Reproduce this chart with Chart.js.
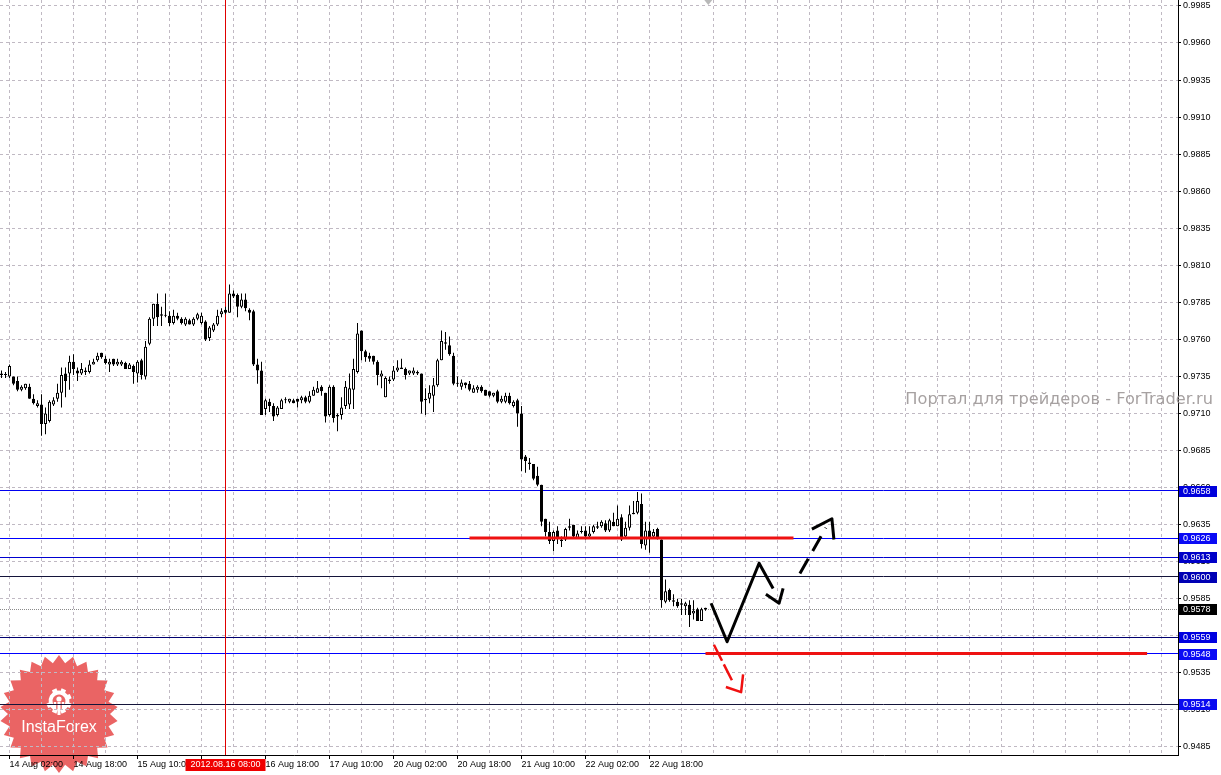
<!DOCTYPE html>
<html>
<head>
<meta charset="utf-8">
<script src="https://cdn.jsdelivr.net/npm/chart.js@4.4.1/dist/chart.umd.min.js"></script>
<style>
  html, body { margin: 0; padding: 0; background: #fff; overflow: hidden; }
  canvas { display: block; }
</style>
</head>
<body>
<canvas id="chart" width="1221" height="775"></canvas>
<script>
// H1 candles, bar 0 = 14 Aug 00:00
const opens = [
  0.9737, 0.9736, 0.9735, 0.9735, 0.9732, 0.9726, 0.9727, 0.9728, 0.9720, 0.9715,
  0.9716, 0.9703, 0.9705, 0.9716, 0.9720, 0.9724, 0.9737, 0.9737, 0.9745, 0.9739,
  0.9737, 0.9738, 0.9738, 0.9743, 0.9746, 0.9751, 0.9747, 0.9743, 0.9747, 0.9743,
  0.9743, 0.9744, 0.9740, 0.9742, 0.9737, 0.9746, 0.9735, 0.9757, 0.9774, 0.9784,
  0.9777, 0.9776, 0.9776, 0.9771, 0.9776, 0.9774, 0.9770, 0.9773, 0.9770, 0.9774,
  0.9771, 0.9772, 0.9761, 0.9766, 0.9770, 0.9777, 0.9780, 0.9778, 0.9791, 0.9790,
  0.9782, 0.9787, 0.9780, 0.9779, 0.9743, 0.9739, 0.9713, 0.9718, 0.9715, 0.9709,
  0.9713, 0.9719, 0.9718, 0.9719, 0.9720, 0.9719, 0.9721, 0.9718, 0.9722, 0.9724,
  0.9728, 0.9724, 0.9709, 0.9728, 0.9709, 0.9709, 0.9715, 0.9716, 0.9726, 0.9738,
  0.9766, 0.9752, 0.9749, 0.9749, 0.9745, 0.9735, 0.9721, 0.9733, 0.9733, 0.9739,
  0.9741, 0.9740, 0.9737, 0.9737, 0.9737, 0.9737, 0.9719, 0.9720, 0.9722, 0.9729,
  0.9746, 0.9758, 0.9756, 0.9749, 0.9730, 0.9728, 0.9731, 0.9730, 0.9724, 0.9726,
  0.9728, 0.9726, 0.9725, 0.9722, 0.9725, 0.9718, 0.9718, 0.9722, 0.9715, 0.9719,
  0.9710, 0.9681, 0.9677, 0.9676, 0.9668, 0.9662, 0.9639, 0.9630, 0.9624, 0.9631,
  0.9625, 0.9625, 0.9634, 0.9635, 0.9626, 0.9630, 0.9631, 0.9627, 0.9630, 0.9634,
  0.9634, 0.9636, 0.9631, 0.9637, 0.9634, 0.9640, 0.9627, 0.9633, 0.9643, 0.9643,
  0.9649, 0.9621, 0.9631, 0.9627, 0.9632, 0.9625, 0.9583, 0.9591, 0.9584, 0.9583,
  0.9581, 0.9580, 0.9581, 0.9575, 0.9578, 0.9570, 0.9579
];
const highs = [
  0.9739, 0.9738, 0.9743, 0.9735, 0.9735, 0.9729, 0.9730, 0.9730, 0.9723, 0.9719,
  0.9723, 0.9714, 0.9719, 0.9721, 0.9730, 0.9741, 0.9741, 0.9749, 0.9750, 0.9741,
  0.9744, 0.9741, 0.9746, 0.9747, 0.9751, 0.9751, 0.9749, 0.9747, 0.9747, 0.9747,
  0.9746, 0.9745, 0.9744, 0.9743, 0.9746, 0.9747, 0.9759, 0.9775, 0.9784, 0.9791,
  0.9782, 0.9791, 0.9779, 0.9780, 0.9778, 0.9775, 0.9775, 0.9774, 0.9775, 0.9778,
  0.9778, 0.9773, 0.9769, 0.9771, 0.9780, 0.9781, 0.9782, 0.9797, 0.9793, 0.9791,
  0.9791, 0.9791, 0.9781, 0.9780, 0.9747, 0.9745, 0.9720, 0.9720, 0.9717, 0.9715,
  0.9720, 0.9721, 0.9720, 0.9720, 0.9720, 0.9722, 0.9722, 0.9725, 0.9728, 0.9732,
  0.9729, 0.9724, 0.9729, 0.9729, 0.9710, 0.9721, 0.9732, 0.9737, 0.9747, 0.9771,
  0.9766, 0.9753, 0.9751, 0.9749, 0.9746, 0.9739, 0.9735, 0.9735, 0.9742, 0.9746,
  0.9747, 0.9741, 0.9739, 0.9741, 0.9739, 0.9737, 0.9727, 0.9729, 0.9734, 0.9747,
  0.9766, 0.9765, 0.9762, 0.9751, 0.9735, 0.9733, 0.9731, 0.9732, 0.9729, 0.9729,
  0.9729, 0.9726, 0.9725, 0.9724, 0.9726, 0.9722, 0.9724, 0.9724, 0.9719, 0.9720,
  0.9715, 0.9682, 0.9680, 0.9676, 0.9674, 0.9662, 0.9639, 0.9637, 0.9631, 0.9634,
  0.9627, 0.9633, 0.9639, 0.9635, 0.9631, 0.9634, 0.9634, 0.9634, 0.9635, 0.9637,
  0.9638, 0.9638, 0.9639, 0.9643, 0.9648, 0.9642, 0.9637, 0.9648, 0.9651, 0.9657,
  0.9656, 0.9637, 0.9637, 0.9632, 0.9633, 0.9625, 0.9598, 0.9592, 0.9588, 0.9585,
  0.9585, 0.9583, 0.9584, 0.9584, 0.9579, 0.9579, 0.9579
];
const lows = [
  0.9734, 0.9734, 0.9734, 0.9729, 0.9725, 0.9725, 0.9726, 0.9720, 0.9716, 0.9714,
  0.9695, 0.9696, 0.9704, 0.9715, 0.9718, 0.9714, 0.9721, 0.9726, 0.9736, 0.9732,
  0.9736, 0.9736, 0.9737, 0.9743, 0.9745, 0.9747, 0.9743, 0.9738, 0.9742, 0.9742,
  0.9742, 0.9740, 0.9740, 0.9730, 0.9731, 0.9733, 0.9733, 0.9756, 0.9769, 0.9769,
  0.9769, 0.9775, 0.9769, 0.9770, 0.9773, 0.9770, 0.9769, 0.9770, 0.9769, 0.9773,
  0.9770, 0.9759, 0.9759, 0.9765, 0.9769, 0.9775, 0.9777, 0.9778, 0.9788, 0.9775,
  0.9781, 0.9779, 0.9773, 0.9742, 0.9730, 0.9709, 0.9709, 0.9711, 0.9705, 0.9708,
  0.9713, 0.9717, 0.9717, 0.9717, 0.9714, 0.9717, 0.9717, 0.9717, 0.9722, 0.9724,
  0.9722, 0.9704, 0.9708, 0.9704, 0.9698, 0.9706, 0.9713, 0.9713, 0.9713, 0.9737,
  0.9746, 0.9745, 0.9745, 0.9743, 0.9729, 0.9727, 0.9721, 0.9730, 0.9732, 0.9738,
  0.9740, 0.9733, 0.9736, 0.9736, 0.9736, 0.9710, 0.9709, 0.9717, 0.9711, 0.9728,
  0.9746, 0.9753, 0.9749, 0.9729, 0.9728, 0.9726, 0.9727, 0.9725, 0.9724, 0.9724,
  0.9724, 0.9722, 0.9721, 0.9721, 0.9717, 0.9717, 0.9717, 0.9716, 0.9714, 0.9701,
  0.9671, 0.9670, 0.9672, 0.9665, 0.9661, 0.9634, 0.9627, 0.9622, 0.9617, 0.9622,
  0.9620, 0.9624, 0.9631, 0.9626, 0.9626, 0.9629, 0.9625, 0.9626, 0.9629, 0.9632,
  0.9633, 0.9630, 0.9630, 0.9634, 0.9634, 0.9624, 0.9626, 0.9631, 0.9642, 0.9642,
  0.9619, 0.9618, 0.9616, 0.9626, 0.9625, 0.9579, 0.9582, 0.9583, 0.9580, 0.9579,
  0.9574, 0.9574, 0.9566, 0.9571, 0.9570, 0.9570, 0.9577
];
const closes = [
  0.9736, 0.9736, 0.9742, 0.9730, 0.9726, 0.9728, 0.9730, 0.9720, 0.9717, 0.9717,
  0.9703, 0.9710, 0.9718, 0.9719, 0.9724, 0.9736, 0.9732, 0.9745, 0.9740, 0.9737,
  0.9740, 0.9739, 0.9743, 0.9745, 0.9749, 0.9748, 0.9744, 0.9745, 0.9743, 0.9745,
  0.9745, 0.9740, 0.9743, 0.9738, 0.9745, 0.9736, 0.9755, 0.9774, 0.9784, 0.9775,
  0.9776, 0.9776, 0.9771, 0.9776, 0.9774, 0.9771, 0.9774, 0.9770, 0.9774, 0.9777,
  0.9776, 0.9760, 0.9768, 0.9770, 0.9776, 0.9779, 0.9778, 0.9791, 0.9789, 0.9782,
  0.9787, 0.9781, 0.9778, 0.9743, 0.9739, 0.9709, 0.9719, 0.9715, 0.9708, 0.9714,
  0.9719, 0.9719, 0.9720, 0.9717, 0.9718, 0.9721, 0.9718, 0.9722, 0.9726, 0.9727,
  0.9725, 0.9708, 0.9728, 0.9707, 0.9708, 0.9714, 0.9728, 0.9727, 0.9740, 0.9764,
  0.9752, 0.9748, 0.9747, 0.9745, 0.9736, 0.9737, 0.9734, 0.9732, 0.9739, 0.9741,
  0.9740, 0.9736, 0.9739, 0.9739, 0.9738, 0.9718, 0.9720, 0.9724, 0.9729, 0.9746,
  0.9759, 0.9757, 0.9750, 0.9730, 0.9730, 0.9731, 0.9729, 0.9726, 0.9727, 0.9728,
  0.9725, 0.9722, 0.9722, 0.9724, 0.9718, 0.9720, 0.9722, 0.9717, 0.9718, 0.9710,
  0.9679, 0.9678, 0.9676, 0.9666, 0.9662, 0.9637, 0.9630, 0.9624, 0.9630, 0.9626,
  0.9624, 0.9632, 0.9633, 0.9627, 0.9629, 0.9630, 0.9627, 0.9629, 0.9634, 0.9633,
  0.9637, 0.9631, 0.9638, 0.9634, 0.9639, 0.9625, 0.9633, 0.9642, 0.9642, 0.9651,
  0.9622, 0.9631, 0.9626, 0.9630, 0.9626, 0.9584, 0.9590, 0.9584, 0.9583, 0.9580,
  0.9582, 0.9582, 0.9574, 0.9577, 0.9570, 0.9578, 0.9578
];

// time axis: a label every 16 bars, starting at bar 2
const firstLabelBar = 2;
const timeLabels = [
  '14 Aug 02:00', '14 Aug 18:00', '15 Aug 10:00', '16 Aug 02:00', '16 Aug 18:00',
  '17 Aug 10:00', '20 Aug 02:00', '20 Aug 18:00', '21 Aug 10:00', '22 Aug 02:00',
  '22 Aug 18:00'
];
const priceTicks = [
  0.9485, 0.9510, 0.9535, 0.9560, 0.9585, 0.9610, 0.9635, 0.9660, 0.9685, 0.9710,
  0.9735, 0.9760, 0.9785, 0.9810, 0.9835, 0.9860, 0.9885, 0.9910, 0.9935, 0.9960,
  0.9985
];

// horizontal levels, bid, and the vertical marker
const levelPrices = [0.9658, 0.9626, 0.9613, 0.9600, 0.9559, 0.9548, 0.9514];
const bidPrice = 0.9578;
const markerBar = 56;
const markerLabel = '2012.08.16 08:00';

// red support/resistance segments as [bar, price] pairs
const resistanceSeg = [[117, 0.9626], [198, 0.9626]];
const supportSeg = [[176, 0.9548], [286.4, 0.9548]];

// hand-drawn forecast arrows, [bar, price]
const mainPath = [[177.4, 0.9582], [181.4, 0.9556], [189.4, 0.9609], [192.9, 0.9592]];
const mainHead = [[191.1, 0.9588], [194.4, 0.9582], [195.4, 0.9592]];
const upPath = [[199.6, 0.9602], [206.1, 0.9633]];
const upHead = [[202.6, 0.9632], [207.6, 0.9639], [208.1, 0.9625]];
const downPath = [[178.1, 0.9554], [182.6, 0.9530]];
const downHead = [[181.1, 0.95255], [184.9, 0.9522], [185.4, 0.9534]];

const lineColors = ['#0000f0', '#0000ff', '#0000d0', '#14143a', '#000070', '#0000ff', '#14143a'];
const boxColors = ['#0000dc', '#0a0af5', '#0000c8', '#0000b4', '#0000e0', '#0a0af5', '#0a0af0'];
const gridColor = '#c0b9c3';
const FONT = '"Liberation Sans", Arial, sans-serif';

Chart.defaults.font.family = FONT;
Chart.defaults.font.size = 9;
Chart.defaults.color = '#000';

function pathDataset(points, color, width, dash) {
  return {
    type: 'line',
    data: points.map(([x, y]) => ({ x, y })),
    borderColor: color,
    borderWidth: width,
    borderDash: dash || [],
    borderCapStyle: 'butt',
    borderJoinStyle: 'round',
    pointRadius: 0,
    fill: false,
    tension: 0,
    order: 0
  };
}

function drawLogo(ctx, cx, cy) {
  const spikes = 26, outer = 59, inner = 51;
  ctx.beginPath();
  for (let k = 0; k < spikes * 2; k++) {
    const r = k % 2 ? inner : outer;
    const a = -Math.PI / 2 + k * Math.PI / spikes;
    ctx.lineTo(cx + r * Math.cos(a), cy + r * Math.sin(a));
  }
  ctx.closePath();
  ctx.fillStyle = 'rgba(226, 40, 40, 0.72)';
  ctx.fill();

  // gear icon
  const gx = cx, gy = cy - 13;
  ctx.fillStyle = '#fff';
  ctx.strokeStyle = '#fff';
  for (let k = 0; k < 8; k++) {
    if (k === 2) continue;
    const a = k * Math.PI / 4 + Math.PI / 2 + Math.PI / 8;
    ctx.save();
    ctx.translate(gx + 10.5 * Math.cos(a), gy + 10.5 * Math.sin(a));
    ctx.rotate(a);
    ctx.fillRect(-2.2, -2.4, 4.4, 4.8);
    ctx.restore();
  }
  ctx.lineWidth = 4;
  ctx.beginPath();
  ctx.arc(gx, gy, 8.5, Math.PI / 2 + 0.55, Math.PI * 2.5 - 0.55);
  ctx.stroke();
  ctx.beginPath();
  ctx.arc(gx, gy - 2, 2.6, 0, Math.PI * 2);
  ctx.fill();
  ctx.fillRect(gx - 1.5, gy + 1, 3, 13);
  ctx.fillRect(gx - 5.2, gy + 1, 2.4, 8);
  ctx.fillRect(gx + 2.8, gy + 1, 2.4, 8);

  ctx.font = '16px ' + FONT;
  ctx.textAlign = 'center';
  ctx.textBaseline = 'alphabetic';
  ctx.fillText('InstaForex', cx, cy + 18);
}

const overlay = {
  id: 'overlay',
  beforeDraw(chart) {
    const ctx = chart.ctx;
    ctx.save();
    ctx.fillStyle = '#fff';
    ctx.fillRect(0, 0, chart.width, chart.height);
    drawLogo(ctx, 59, 714);
    ctx.restore();
  },
  beforeDatasetsDraw(chart) {
    const { ctx, chartArea: area, scales: { x, y } } = chart;
    ctx.save();
    ctx.lineWidth = 1;
    levelPrices.forEach((p, k) => {
      const py = Math.round(y.getPixelForValue(p) - 0.5) + 0.5;
      ctx.strokeStyle = lineColors[k];
      ctx.beginPath();
      ctx.moveTo(area.left, py);
      ctx.lineTo(area.right, py);
      ctx.stroke();
    });
    // bid line
    const by = Math.round(y.getPixelForValue(bidPrice) - 0.5) + 0.5;
    ctx.strokeStyle = '#8a8a8a';
    ctx.setLineDash([1, 1]);
    ctx.beginPath();
    ctx.moveTo(area.left, by);
    ctx.lineTo(area.right, by);
    ctx.stroke();
    ctx.setLineDash([]);
    // vertical marker
    const mx = Math.floor(x.getPixelForValue(markerBar)) + 0.5;
    ctx.strokeStyle = '#e00000';
    ctx.beginPath();
    ctx.moveTo(mx, area.top);
    ctx.lineTo(mx, area.bottom);
    ctx.stroke();
    ctx.restore();
  },
  afterDraw(chart) {
    const { ctx, chartArea: area, scales: { x, y } } = chart;
    ctx.save();
    ctx.font = '9px ' + FONT;
    ctx.textBaseline = 'middle';
    ctx.textAlign = 'left';
    const boxes = levelPrices.map((p, k) => [p, boxColors[k]]).concat([[bidPrice, '#000']]);
    boxes.forEach(([p, color]) => {
      const py = Math.round(y.getPixelForValue(p));
      ctx.fillStyle = color;
      ctx.fillRect(area.right + 1, py - 5, 38, 11);
      ctx.fillStyle = '#fff';
      ctx.fillText(p.toFixed(4), area.right + 5, py + 0.5);
    });

    // marker time label
    const mx = Math.floor(x.getPixelForValue(markerBar)) + 0.5;
    ctx.fillStyle = '#f00000';
    ctx.fillRect(mx - 40, area.bottom + 4, 80, 12);
    ctx.fillStyle = '#fff';
    ctx.textAlign = 'center';
    ctx.fillText(markerLabel, mx, area.bottom + 10);

    // watermark
    const text = 'Портал для трейдеров - ForTrader.ru';
    ctx.font = '16px "DejaVu Sans"';
    const size = 16 * 308 / ctx.measureText(text).width;
    ctx.font = size.toFixed(2) + 'px "DejaVu Sans"';
    ctx.fillStyle = 'rgba(150, 144, 144, 0.85)';
    ctx.textAlign = 'right';
    ctx.textBaseline = 'alphabetic';
    ctx.fillText(text, 1213, 404);

    // chart shift marker
    const sx = x.getPixelForValue(opens.length - 0.3);
    ctx.fillStyle = '#b8b8b8';
    ctx.beginPath();
    ctx.moveTo(sx - 4, 0);
    ctx.lineTo(sx + 4, 0);
    ctx.lineTo(sx, 5);
    ctx.closePath();
    ctx.fill();
    ctx.restore();
  }
};

const bodyData = opens.map((o, i) => ({ x: i, y: [o, closes[i]] }));
const wickData = opens.map((o, i) => ({ x: i, y: [lows[i], highs[i]] }));
const bodyFill = opens.map((o, i) => (closes[i] > o ? '#ffffff' : '#000000'));

function isLabelTick(value) {
  const k = Math.round((value - firstLabelBar) / 8);
  return k % 2 === 0 && k / 2 < timeLabels.length;
}

new Chart(document.getElementById('chart'), {
  type: 'bar',
  data: {
    datasets: [
      pathDataset(resistanceSeg, '#ee1111', 3),
      pathDataset(supportSeg, '#ee1111', 3),
      pathDataset(mainPath, '#000', 3),
      pathDataset(mainHead, '#000', 3),
      pathDataset(upPath, '#000', 3, [17, 9]),
      pathDataset(upHead, '#000', 3),
      pathDataset(downPath, '#f01010', 2.5, [18, 4]),
      pathDataset(downHead, '#f01010', 2.5),
      {
        type: 'bar',
        data: bodyData,
        backgroundColor: bodyFill,
        borderColor: '#000',
        borderWidth: 1,
        borderSkipped: false,
        inflateAmount: 0,
        minBarLength: 1,
        grouped: false,
        categoryPercentage: 1,
        barPercentage: 1,
        maxBarThickness: 3,
        order: 1
      },
      {
        type: 'bar',
        data: wickData,
        backgroundColor: '#000',
        borderWidth: 0,
        inflateAmount: 0,
        minBarLength: 1,
        grouped: false,
        categoryPercentage: 1,
        barPercentage: 1,
        maxBarThickness: 1,
        order: 2
      }
    ]
  },
  options: {
    responsive: false,
    animation: false,
    devicePixelRatio: 1,
    events: [],
    layout: { padding: 0 },
    plugins: { legend: { display: false }, tooltip: { enabled: false } },
    scales: {
      x: {
        type: 'linear',
        min: -0.375,
        max: 294.125,
        offset: false,
        grid: {
          offset: false,
          color: gridColor,
          lineWidth: 1,
          tickLength: 4,
          tickColor: (ctx) => (ctx.tick && isLabelTick(ctx.tick.value) ? '#000' : 'rgba(0,0,0,0)')
        },
        border: { display: true, color: '#000', width: 1, dash: [3, 3] },
        ticks: {
          autoSkip: false,
          maxRotation: 0,
          minRotation: 0,
          align: 'start',
          padding: 0,
          font: { size: 9 },
          callback: (v) => {
            const k = Math.round((v - firstLabelBar) / 8);
            return isLabelTick(v) ? timeLabels[k / 2] : '';
          }
        },
        afterBuildTicks: (scale) => {
          const ticks = [];
          for (let v = firstLabelBar; v <= scale.max; v += 8) ticks.push({ value: v });
          scale.ticks = ticks;
        },
        afterFit: (scale) => {
          scale.height = 20;
          scale.paddingLeft = 0;
          scale.paddingRight = 0;
        }
      },
      y: {
        type: 'linear',
        position: 'right',
        min: 0.94796,
        max: 0.99890,
        beginAtZero: false,
        grid: {
          color: gridColor,
          lineWidth: 1,
          tickLength: 3,
          tickColor: '#000'
        },
        border: { display: true, color: '#000', width: 1, dash: [3, 3] },
        ticks: {
          padding: 2,
          font: { size: 9 },
          callback: (v) => Number(v).toFixed(4)
        },
        afterBuildTicks: (scale) => {
          scale.ticks = priceTicks.map((v) => ({ value: v }));
        },
        afterFit: (scale) => {
          scale.width = 43;
          scale.paddingTop = 0;
          scale.paddingBottom = 0;
        }
      }
    }
  },
  plugins: [overlay]
});
</script>
</body>
</html>
